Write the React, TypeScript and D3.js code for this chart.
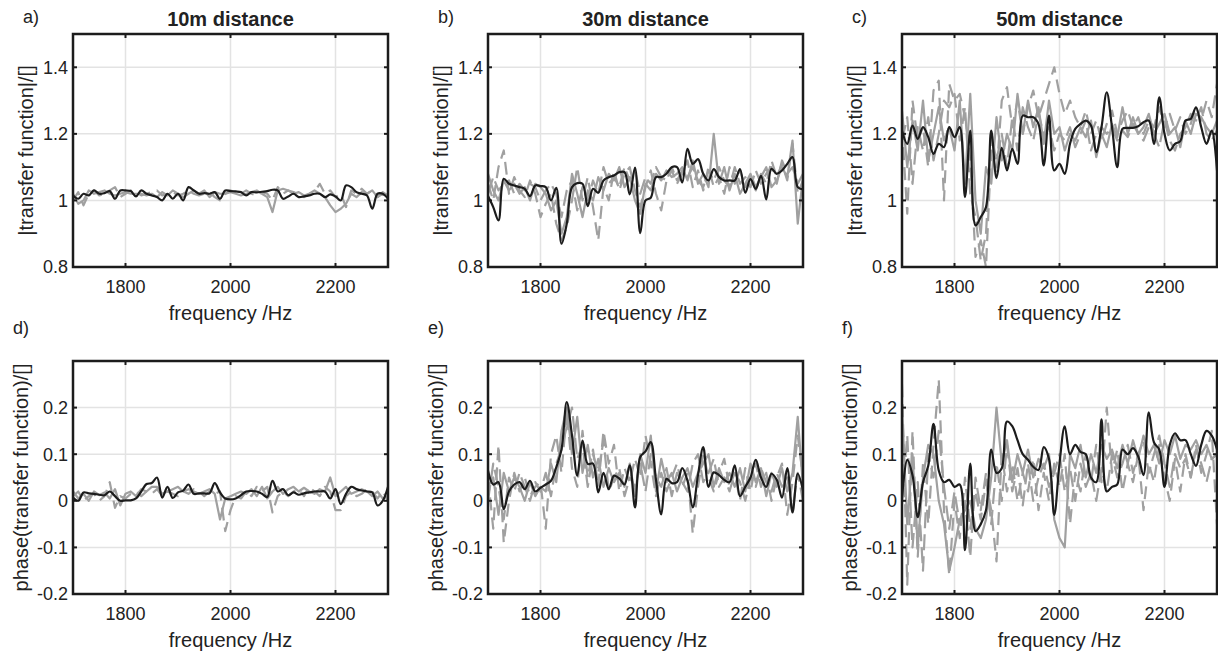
import * as d3 from "d3";
import { useEffect, useRef } from "react";

// frequency grid (Hz)
const freq = [
  1700, 1710, 1720, 1730, 1740, 1750, 1760, 1770, 1780, 1790,
  1800, 1810, 1820, 1830, 1840, 1850, 1860, 1870, 1880, 1890,
  1900, 1910, 1920, 1930, 1940, 1950, 1960, 1970, 1980, 1990,
  2000, 2010, 2020, 2030, 2040, 2050, 2060, 2070, 2080, 2090,
  2100, 2110, 2120, 2130, 2140, 2150, 2160, 2170, 2180, 2190,
  2200, 2210, 2220, 2230, 2240, 2250, 2260, 2270, 2280, 2290,
  2300,
];

const xTicks = [1800, 2000, 2200];
const magTicks = [0.8, 1, 1.2, 1.4];
const phaseTicks = [-0.2, -0.1, 0, 0.1, 0.2];
const titles = ["10m distance", "30m distance", "50m distance"];
const letters = ["a)", "b)", "c)", "d)", "e)", "f)"];

// |transfer function|, 10 m
const mag10Mean = [1.015,1.005,1.02,1.015,1.03,1.02,1.022,1.028,1.005,1.03,1.03,1.028,1.012,1.03,1.02,1.015,1.01,1.0,1.02,1.005,1.02,1.0,1.04,1.03,1.02,1.022,1.02,1.025,1.005,1.03,1.028,1.027,1.025,1.015,1.025,1.024,1.026,1.028,1.032,1.03,1.005,1.012,1.02,1.01,1.012,1.015,1.02,1.02,1.01,1.018,1.012,1.0,1.045,1.04,1.025,1.02,1.015,0.975,1.02,1.02,1.005];
const mag10Run1 = [1.02,0.99,1.0,1.03,1.02,1.025,1.03,1.02,1.015,1.02,1.025,1.02,1.02,1.02,1.015,1.02,1.01,1.025,1.015,1.03,1.02,1.01,1.02,1.03,1.02,1.03,1.01,1.025,1.02,1.02,1.025,1.02,1.015,1.02,1.025,1.03,1.02,1.01,0.965,1.03,1.035,1.03,1.02,1.025,1.015,1.02,1.03,1.02,1.01,0.985,0.965,0.975,0.99,1.02,1.01,1.025,1.02,1.03,1.01,1.025,1.015];
const mag10Run2 = [1.0,1.025,0.985,1.02,1.03,1.015,1.02,1.03,1.04,1.01,1.02,1.03,1.025,1.015,1.02,1.025,1.03,1.015,1.02,1.025,1.015,1.02,1.03,1.02,1.015,1.02,1.025,1.01,1.0,1.02,1.03,1.025,1.02,1.03,1.02,1.015,1.025,1.02,1.0,1.04,1.02,1.03,1.025,1.02,1.01,1.02,1.025,1.05,1.02,1.03,1.01,1.02,0.98,1.03,1.02,1.035,1.02,1.03,1.01,1.02,1.01];

// |transfer function|, 30 m
const mag30Mean = [1.013,0.98,0.94,1.065,1.05,1.045,1.04,1.035,1.013,1.045,1.043,1.04,1.0,1.038,0.87,0.93,1.04,1.052,1.05,0.983,1.035,1.023,1.06,1.07,1.075,1.085,1.085,1.018,1.099,0.902,1.0,1.008,1.07,1.07,1.08,1.1,1.1,1.054,1.155,1.11,1.124,1.08,1.06,1.094,1.07,1.06,1.06,1.06,1.094,1.023,1.064,1.035,1.074,1.003,1.095,1.08,1.09,1.11,1.13,1.04,1.033];
const mag30Run1 = [1.08,1.03,1.0,1.06,1.03,1.05,1.02,1.04,1.0,1.05,1.04,1.02,0.97,1.0,0.9,0.95,1.08,1.02,0.95,1.03,1.0,1.07,1.03,1.08,1.06,1.1,1.04,1.07,1.0,0.96,1.05,1.03,1.08,1.06,1.09,1.07,1.08,1.1,1.06,1.12,1.05,1.08,1.04,1.2,1.05,1.1,1.03,1.08,1.02,1.05,1.08,1.04,1.07,1.1,1.04,1.06,1.1,1.07,1.18,0.93,1.07];
const mag30Run2 = [1.05,1.0,1.1,1.15,1.02,1.07,1.03,1.01,1.06,1.02,0.95,0.99,1.02,0.93,0.88,0.92,1.0,1.1,1.0,1.07,0.98,0.88,1.04,1.0,1.09,1.03,1.08,1.1,1.03,0.98,1.04,1.09,1.02,0.97,1.06,1.09,1.05,1.08,1.12,1.04,1.09,1.03,1.1,1.04,1.07,1.02,1.1,1.05,1.09,1.04,1.07,1.03,1.08,1.05,1.12,1.07,1.11,1.06,1.17,1.02,1.06];
const mag30Run3 = [1.02,1.07,1.03,1.05,1.06,1.02,1.05,1.03,1.05,1.04,1.0,1.03,1.05,1.02,0.95,1.03,1.06,0.97,1.04,1.0,1.06,1.02,1.1,1.05,1.07,1.04,1.1,1.06,1.09,1.02,1.07,1.05,1.1,1.07,1.06,1.1,1.06,1.09,1.07,1.1,1.06,1.04,1.09,1.06,1.1,1.06,1.04,1.1,1.05,1.07,1.04,1.09,1.05,1.08,1.1,1.05,1.12,1.08,1.1,1.05,1.08];

// |transfer function|, 50 m
const mag50Mean = [1.21,1.17,1.225,1.185,1.22,1.19,1.14,1.17,1.16,1.22,1.19,1.22,1.01,1.21,0.925,0.95,0.98,1.21,1.067,1.158,1.09,1.155,1.11,1.255,1.25,1.25,1.23,1.105,1.255,1.09,1.11,1.08,1.17,1.215,1.23,1.24,1.225,1.145,1.22,1.325,1.22,1.1,1.215,1.218,1.218,1.223,1.235,1.24,1.17,1.31,1.2,1.15,1.17,1.178,1.24,1.245,1.28,1.22,1.17,1.21,1.09];
const mag50Run1 = [1.27,1.1,1.24,1.15,1.3,1.12,1.2,1.28,1.18,1.22,1.15,1.3,1.05,1.32,1.0,0.9,1.1,1.05,1.25,1.12,1.2,1.15,1.32,1.2,1.3,1.22,1.28,1.17,1.3,1.2,1.22,1.15,1.2,1.18,1.22,1.19,1.24,1.13,1.2,1.16,1.23,1.19,1.28,1.2,1.25,1.2,1.22,1.26,1.2,1.23,1.26,1.2,1.22,1.16,1.24,1.2,1.26,1.25,1.22,1.2,1.24];
const mag50Run2 = [1.22,0.96,1.3,1.18,1.22,1.1,1.33,1.36,1.0,1.35,1.3,1.32,1.25,1.12,0.83,0.88,0.8,1.15,1.08,1.3,1.34,1.22,1.3,1.2,1.28,1.33,1.25,1.3,1.35,1.4,1.32,1.26,1.3,1.25,1.22,1.27,1.2,1.24,1.18,1.23,1.27,1.2,1.24,1.27,1.22,1.25,1.2,1.24,1.22,1.28,1.22,1.26,1.21,1.25,1.2,1.23,1.28,1.24,1.3,1.25,1.35];
const mag50Run3 = [1.18,1.25,1.05,1.22,1.15,1.25,1.12,1.2,1.3,1.28,1.32,1.18,1.28,1.02,0.95,0.82,0.9,1.2,1.12,1.2,1.1,1.25,1.15,1.28,1.22,1.18,1.26,1.2,1.22,1.15,1.2,1.18,1.22,1.16,1.2,1.24,1.15,1.2,1.22,1.2,1.22,1.18,1.21,1.19,1.23,1.2,1.18,1.22,1.2,1.16,1.24,1.18,1.15,1.2,1.22,1.26,1.24,1.28,1.2,1.18,1.21];

// phase(transfer function), 10 m
const ph10Mean = [0.007,0.0,0.018,0.016,0.015,0.013,0.012,0.02,0.01,0.0,0.001,0.001,0.005,0.02,0.036,0.038,0.05,0.007,0.03,0.006,0.018,0.022,0.035,0.015,0.016,0.016,0.016,0.038,0.018,0.005,0.003,0.005,0.012,0.02,0.021,0.02,0.015,0.008,0.043,0.02,0.025,0.012,0.018,0.013,0.016,0.018,0.02,0.02,0.02,0.005,0.025,-0.007,0.015,0.03,0.025,0.022,0.02,0.018,-0.01,0.0,0.03];
const ph10Run1 = [0.02,0.005,0.015,0.0,0.02,0.012,0.018,0.005,0.025,-0.01,0.015,0.02,0.01,0.025,0.02,0.03,0.03,0.015,0.02,0.025,0.03,0.02,0.025,0.02,0.015,0.02,0.025,0.015,-0.04,0.005,0.01,0.015,0.02,0.015,0.025,0.01,0.03,0.005,0.02,0.03,0.015,0.025,0.03,0.02,0.028,0.02,0.015,0.025,0.02,0.05,0.01,0.02,0.03,0.015,0.02,0.025,0.02,0.01,0.02,0.005,0.01];
const ph10Run2 = [0.01,0.02,0.0,0.01,0.015,0.0,0.01,0.04,-0.015,0.01,0.005,0.015,0.02,0.01,0.02,0.015,0.025,0.01,0.02,0.015,0.01,0.02,0.015,0.025,0.02,0.01,0.02,0.015,0.02,-0.065,-0.02,0.01,0.005,0.02,0.01,0.03,0.02,0.03,-0.025,0.01,0.02,0.01,0.02,0.025,0.01,0.03,0.02,0.01,0.03,0.02,-0.02,-0.02,0.01,0.02,0.01,0.015,0.025,0.02,0.005,0.02,0.0];

// phase(transfer function), 30 m
const ph30Mean = [0.065,0.035,0.04,-0.018,0.02,0.035,0.04,0.025,0.043,0.02,0.028,0.035,0.043,0.072,0.11,0.212,0.14,0.054,0.129,0.079,0.08,0.018,0.06,0.025,0.054,0.048,0.035,0.076,-0.014,0.094,0.106,0.126,0.045,-0.029,0.047,0.038,0.04,0.07,0.043,-0.014,0.055,0.115,0.03,0.061,0.055,0.045,0.04,0.076,0.01,0.03,0.05,0.088,0.05,0.03,0.058,0.045,0.007,0.07,-0.025,0.058,0.022];
const ph30Run1 = [0.03,0.05,-0.03,0.06,0.02,0.05,0.03,0.0,0.04,0.01,0.03,0.02,0.08,0.04,0.15,0.2,0.1,0.18,0.06,0.12,0.05,0.09,0.03,0.07,0.04,0.06,0.03,0.08,0.01,0.1,0.06,0.14,0.02,0.09,0.04,0.06,0.02,0.05,0.07,0.03,0.06,0.08,0.1,0.03,0.07,0.04,0.06,0.03,0.07,0.02,0.08,0.04,0.07,0.01,0.06,0.03,0.07,0.02,0.06,0.18,0.03];
const ph30Run2 = [0.05,-0.06,0.12,-0.09,0.0,0.06,0.02,0.05,0.01,0.03,0.04,-0.06,0.1,0.14,0.06,0.19,0.07,0.03,0.15,0.05,0.11,0.03,0.15,0.08,0.12,0.02,0.07,0.04,0.09,0.05,0.14,0.08,0.01,0.06,0.02,0.05,0.08,0.03,0.06,-0.07,0.03,0.1,0.05,0.02,0.06,0.09,0.03,0.06,0.0,0.07,0.02,0.08,0.03,0.06,0.0,0.05,0.08,-0.03,0.04,0.14,0.05];
const ph30Run3 = [0.0,0.08,0.03,-0.04,0.05,0.02,0.06,0.03,0.0,0.04,0.02,0.06,0.01,0.08,0.11,0.16,0.2,0.09,0.12,0.03,0.1,0.06,0.13,0.02,0.05,0.07,0.01,0.05,0.03,0.08,0.02,0.1,0.05,0.03,0.07,0.01,0.06,0.04,0.02,0.08,0.1,0.04,0.06,0.09,0.03,0.05,0.02,0.06,0.04,0.0,0.05,0.03,0.07,0.04,0.02,0.06,0.03,0.05,-0.02,0.06,0.0];

// phase(transfer function), 50 m
const ph50Mean = [0.005,0.088,0.055,-0.035,0.04,0.075,0.165,0.065,0.04,0.045,0.03,0.035,-0.106,0.08,-0.065,-0.05,-0.02,0.11,0.06,0.07,0.17,0.16,0.13,0.1,0.088,0.073,0.066,0.115,0.09,-0.03,0.08,0.16,0.1,0.12,0.105,0.1,0.05,0.04,0.175,0.02,0.03,0.035,0.11,0.1,0.113,0.095,0.055,0.19,0.125,0.11,0.03,0.12,0.145,0.13,0.13,0.1,0.075,0.12,0.15,0.14,0.11];
const ph50Run1 = [0.2,-0.05,0.1,-0.1,0.05,0.12,0.1,0.0,-0.05,-0.15,-0.1,-0.04,-0.02,0.0,-0.06,-0.08,-0.04,0.05,0.2,0.08,0.13,0.04,0.1,0.06,0.11,0.05,0.09,0.07,0.1,-0.04,-0.08,-0.1,0.1,0.07,0.12,0.05,0.1,0.06,0.12,0.09,0.11,0.07,0.12,0.08,0.13,0.09,0.14,0.1,0.12,0.08,0.13,0.1,0.14,0.09,0.12,0.11,0.13,0.1,0.12,0.09,0.1];
const ph50Run2 = [0.25,-0.18,0.15,-0.12,0.08,-0.05,0.12,0.26,-0.02,-0.16,0.0,-0.08,0.05,-0.06,0.02,-0.04,0.04,-0.02,-0.13,0.1,0.02,0.08,0.0,0.06,0.02,0.09,-0.02,0.06,0.0,0.08,0.03,0.1,-0.05,0.06,0.02,0.1,0.04,0.12,0.04,0.2,0.06,0.11,0.02,0.08,0.04,0.1,-0.02,0.08,0.04,0.12,0.05,0.0,0.09,0.02,0.1,0.05,0.12,0.06,0.1,0.15,-0.05];
const ph50Run3 = [0.0,0.14,-0.1,0.04,-0.15,0.1,0.05,0.15,0.03,-0.06,0.02,-0.05,0.0,-0.12,0.05,-0.02,0.06,-0.05,0.08,0.0,0.12,0.02,0.07,-0.01,0.08,0.0,0.05,0.08,0.03,0.06,0.1,0.02,0.07,0.0,0.08,0.03,0.06,0.0,0.07,0.02,0.1,0.05,0.08,0.12,0.06,0.1,0.13,0.06,0.1,0.14,0.08,0.03,0.1,0.07,0.09,0.05,0.11,0.08,0.04,0.09,0.1];

const runDashes = [null, "13,7", "16,6"];

export default function App() {
  const ref = useRef<SVGSVGElement>(null);

  useEffect(() => {
    const svg = d3.select(ref.current);
    svg.selectAll("*").remove();

    const width = 1218;
    const height = 654;
    const font = "'Liberation Sans', Arial, Helvetica, sans-serif";
    svg.attr("width", width).attr("height", height);

    const lefts = [73, 488, 902];
    const tops = [34, 361];
    const pw = 315;
    const ph = 233;

    const panels = [
      { col: 0, row: 0, mean: mag10Mean, runs: [mag10Run1, mag10Run2] },
      { col: 1, row: 0, mean: mag30Mean, runs: [mag30Run1, mag30Run2, mag30Run3] },
      { col: 2, row: 0, mean: mag50Mean, runs: [mag50Run1, mag50Run2, mag50Run3] },
      { col: 0, row: 1, mean: ph10Mean, runs: [ph10Run1, ph10Run2] },
      { col: 1, row: 1, mean: ph30Mean, runs: [ph30Run1, ph30Run2, ph30Run3] },
      { col: 2, row: 1, mean: ph50Mean, runs: [ph50Run1, ph50Run2, ph50Run3] },
    ];

    panels.forEach((p, i) => {
      const left = lefts[p.col];
      const top = tops[p.row];
      const x = d3.scaleLinear().domain([1700, 2300]).range([left, left + pw]);
      const y = d3
        .scaleLinear()
        .domain(p.row === 0 ? [0.8, 1.5] : [-0.2, 0.3])
        .range([top + ph, top]);
      const yTicks = p.row === 0 ? magTicks : phaseTicks;

      const g = svg.append("g");
      const clipId = `clip-${i}`;
      g.append("clipPath")
        .attr("id", clipId)
        .append("rect")
        .attr("x", left)
        .attr("y", top)
        .attr("width", pw)
        .attr("height", ph);

      // grid
      g.append("g")
        .selectAll("line")
        .data(xTicks)
        .join("line")
        .attr("x1", (d) => x(d))
        .attr("x2", (d) => x(d))
        .attr("y1", top)
        .attr("y2", top + ph)
        .attr("stroke", "#e3e3e3")
        .attr("stroke-width", 1.5);
      g.append("g")
        .selectAll("line")
        .data(yTicks)
        .join("line")
        .attr("x1", left)
        .attr("x2", left + pw)
        .attr("y1", (d) => y(d))
        .attr("y2", (d) => y(d))
        .attr("stroke", "#e3e3e3")
        .attr("stroke-width", 1.5);

      const plot = g.append("g").attr("clip-path", `url(#${clipId})`);

      const grayLine = d3
        .line<number>()
        .x((_, k) => x(freq[k]))
        .y((d) => y(d));
      p.runs.forEach((run, k) => {
        plot.append("path")
          .datum(run)
          .attr("d", grayLine)
          .attr("fill", "none")
          .attr("stroke", "#a0a0a0")
          .attr("stroke-width", 2.2)
          .attr("stroke-linejoin", "round")
          .attr("stroke-dasharray", runDashes[k]);
      });

      const meanLine = d3
        .line<number>()
        .x((_, k) => x(freq[k]))
        .y((d) => y(d))
        .curve(d3.curveCatmullRom.alpha(0.5));
      plot.append("path")
        .datum(p.mean)
        .attr("d", meanLine)
        .attr("fill", "none")
        .attr("stroke", "#1c1c1c")
        .attr("stroke-width", 2.2)
        .attr("stroke-linejoin", "round");

      // inward ticks on all four sides
      const tl = 4;
      xTicks.forEach((t) => {
        g.append("line").attr("x1", x(t)).attr("x2", x(t)).attr("y1", top + ph).attr("y2", top + ph - tl)
          .attr("stroke", "#1c1c1c").attr("stroke-width", 2);
        g.append("line").attr("x1", x(t)).attr("x2", x(t)).attr("y1", top).attr("y2", top + tl)
          .attr("stroke", "#1c1c1c").attr("stroke-width", 2);
      });
      yTicks.forEach((t) => {
        g.append("line").attr("x1", left).attr("x2", left + tl).attr("y1", y(t)).attr("y2", y(t))
          .attr("stroke", "#1c1c1c").attr("stroke-width", 2);
        g.append("line").attr("x1", left + pw).attr("x2", left + pw - tl).attr("y1", y(t)).attr("y2", y(t))
          .attr("stroke", "#1c1c1c").attr("stroke-width", 2);
      });

      // box
      g.append("rect")
        .attr("x", left)
        .attr("y", top)
        .attr("width", pw)
        .attr("height", ph)
        .attr("fill", "none")
        .attr("stroke", "#1c1c1c")
        .attr("stroke-width", 2.5);

      // tick labels
      g.append("g")
        .selectAll("text")
        .data(xTicks)
        .join("text")
        .attr("x", (d) => x(d))
        .attr("y", top + ph + 26)
        .attr("text-anchor", "middle")
        .attr("font-family", font)
        .attr("font-size", 18)
        .attr("fill", "#222")
        .text((d) => String(d));
      g.append("g")
        .selectAll("text")
        .data(yTicks)
        .join("text")
        .attr("x", left - 5)
        .attr("y", (d) => y(d))
        .attr("dy", "0.36em")
        .attr("text-anchor", "end")
        .attr("font-family", font)
        .attr("font-size", 18)
        .attr("fill", "#222")
        .text((d) => String(d));

      // axis labels
      g.append("text")
        .attr("x", left + pw / 2)
        .attr("y", top + ph + 53)
        .attr("text-anchor", "middle")
        .attr("font-family", font)
        .attr("font-size", 20)
        .attr("fill", "#222")
        .text("frequency /Hz");
      const ylx = p.row === 0 ? left - 47 : left - 52;
      g.append("text")
        .attr("transform", `translate(${ylx},${top + ph / 2}) rotate(-90)`)
        .attr("dy", "0.36em")
        .attr("text-anchor", "middle")
        .attr("font-family", font)
        .attr("font-size", 20)
        .attr("fill", "#222")
        .text(p.row === 0 ? "|transfer function|/[]" : "phase(transfer function)/[]");

      // panel letter and title
      g.append("text")
        .attr("x", p.row === 0 ? left - 50 : left - 60)
        .attr("y", p.row === 0 ? 23 : 334)
        .attr("font-family", font)
        .attr("font-size", 18)
        .attr("fill", "#222")
        .text(letters[i]);
      if (p.row === 0) {
        g.append("text")
          .attr("x", left + pw / 2)
          .attr("y", 26)
          .attr("text-anchor", "middle")
          .attr("font-family", font)
          .attr("font-size", 20)
          .attr("font-weight", "bold")
          .attr("fill", "#222")
          .text(titles[p.col]);
      }
    });
  }, []);

  return (
    <svg
      ref={ref}
      style={{ position: "absolute", left: 0, top: 0, display: "block", background: "#fff" }}
    ></svg>
  );
}
